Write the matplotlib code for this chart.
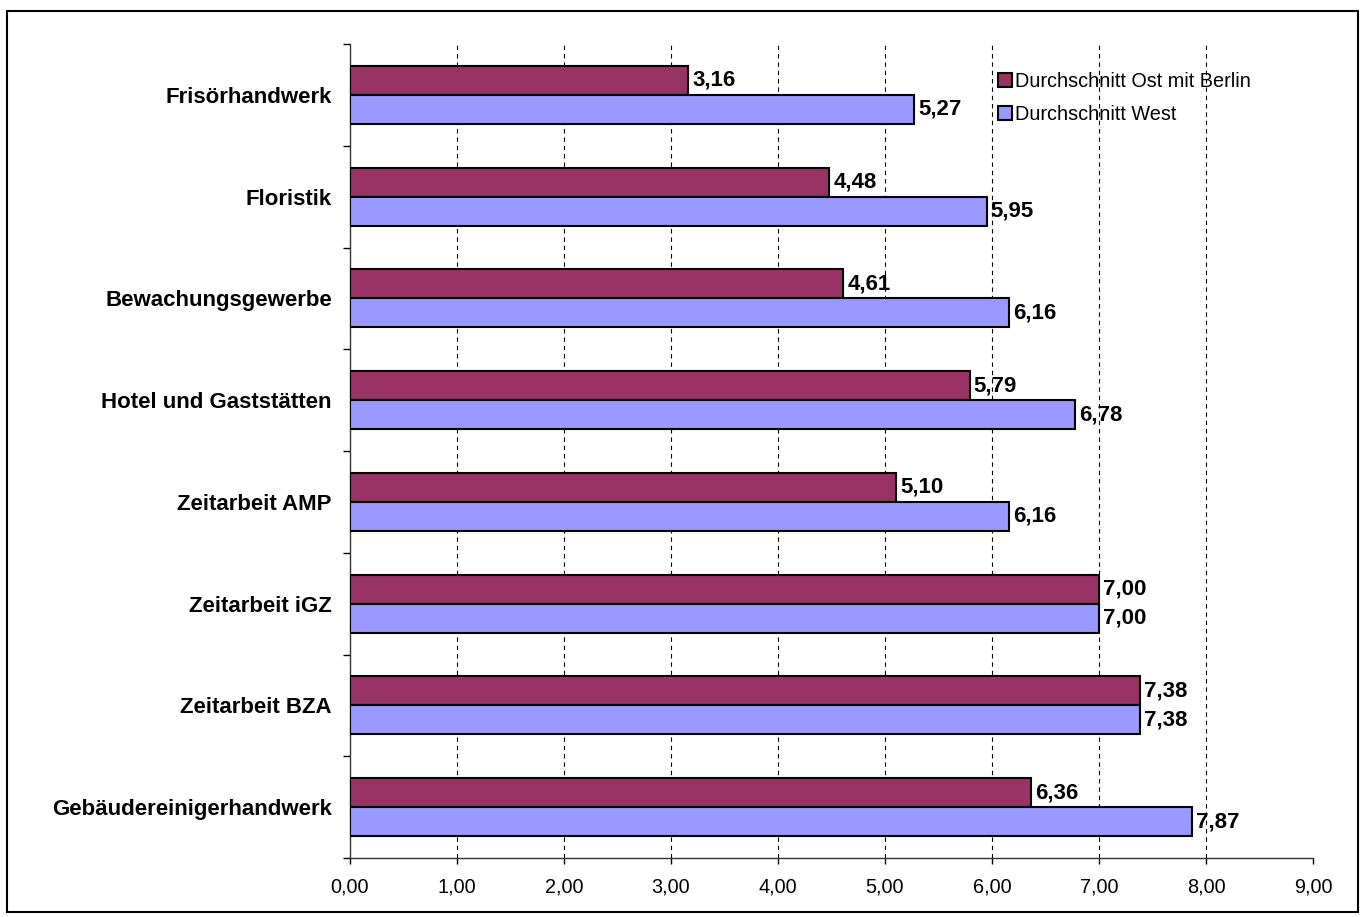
import matplotlib.pyplot as plt
import numpy as np
from matplotlib.patches import Rectangle
from matplotlib.ticker import FixedLocator

plt.rcParams["font.family"] = ["Liberation Sans", "DejaVu Sans"]

categories = [
    "Frisörhandwerk",
    "Floristik",
    "Bewachungsgewerbe",
    "Hotel und Gaststätten",
    "Zeitarbeit AMP",
    "Zeitarbeit iGZ",
    "Zeitarbeit BZA",
    "Gebäudereinigerhandwerk",
]
ost = [3.16, 4.48, 4.61, 5.79, 5.10, 7.00, 7.38, 6.36]
west = [5.27, 5.95, 6.16, 6.78, 6.16, 7.00, 7.38, 7.87]
series_names = ["Durchschnitt Ost mit Berlin", "Durchschnitt West"]
x_ticks = [0, 1, 2, 3, 4, 5, 6, 7, 8, 9]

ost_color = "#993366"
west_color = "#9999FF"

fig = plt.figure(figsize=(13.66, 9.17), dpi=100)
ax = fig.add_axes([0.2562, 0.0643, 0.705, 0.8877])

# frame round the whole chart
fig.patches.append(
    Rectangle((0.005, 0.005), 0.989, 0.983, transform=fig.transFigure,
              fill=False, edgecolor="black", linewidth=1.5)
)

y = np.arange(len(categories))
h = 0.285
bars_ost = ax.barh(y - h / 2, ost, height=h, color=ost_color,
                   edgecolor="black", linewidth=1.5, label=series_names[0], zorder=3)
bars_west = ax.barh(y + h / 2, west, height=h, color=west_color,
                    edgecolor="black", linewidth=1.5, label=series_names[1], zorder=3)

for bars, vals in ((bars_ost, ost), (bars_west, west)):
    for b, v in zip(bars, vals):
        ax.annotate(f"{v:.2f}".replace(".", ","),
                    (v, b.get_y() + b.get_height() / 2),
                    xytext=(3, 0), textcoords="offset points",
                    ha="left", va="center", fontsize=16, fontweight="bold",
                    zorder=4)

ax.set_xlim(0, 9)
ax.set_ylim(len(categories) - 0.5, -0.5)
ax.set_xticks(x_ticks)
ax.set_xticklabels([f"{t:.2f}".replace(".", ",") for t in x_ticks], fontsize=14.3)
ax.set_yticks(y)
ax.set_yticklabels(categories, fontsize=16, fontweight="bold")
ax.yaxis.set_minor_locator(FixedLocator(np.arange(-0.5, len(categories), 1.0)))
ax.tick_params(axis="y", which="major", length=0, pad=13)
ax.tick_params(axis="y", which="minor", length=5, width=1)
ax.tick_params(axis="x", length=4, width=1, pad=10)

for xv in x_ticks[1:-1]:
    ax.axvline(xv, color="black", linewidth=0.8, linestyle=(0, (4, 3.5)), zorder=1)

for side in ("top", "right"):
    ax.spines[side].set_visible(False)
for side in ("left", "bottom"):
    ax.spines[side].set_linewidth(1)
    ax.spines[side].set_color("#333333")

ax.legend(loc="upper left", bbox_to_anchor=(0.7305, 0.9217),
          bbox_transform=fig.transFigure, frameon=False, fontsize=14.3,
          handlelength=0.7, handleheight=0.7, handletextpad=0.15,
          labelspacing=0.7, borderaxespad=0, borderpad=0)

fig.savefig("out.png", dpi=100)
